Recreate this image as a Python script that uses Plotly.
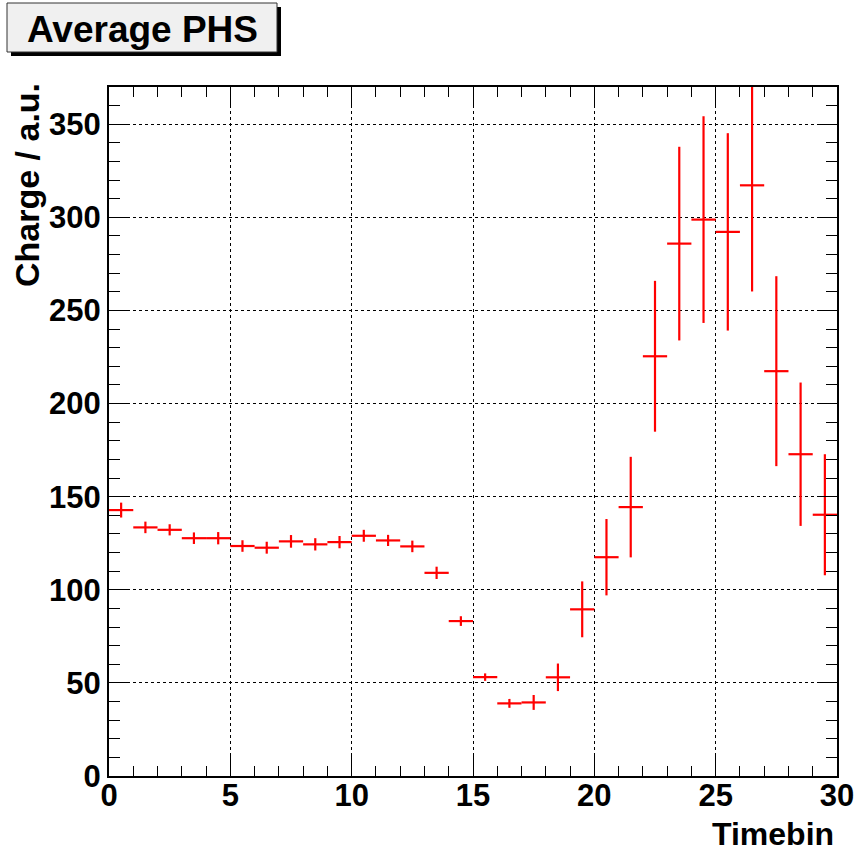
import plotly.graph_objects as go

# Data
bin_centers = [i + 0.5 for i in range(30)]
charge = [142.8, 133.5, 132.2, 127.7, 127.7, 123.5, 122.6, 126.0, 124.4, 125.6,
          129.0, 126.5, 123.3, 109.1, 83.2, 53.1, 39.0, 39.5, 53.0, 89.5,
          117.5, 144.4, 225.4, 285.9, 298.8, 292.2, 317.2, 217.4, 172.8, 140.3]
charge_err = [4.0, 3.1, 3.0, 3.1, 3.3, 3.1, 3.2, 3.4, 3.3, 3.3,
              3.2, 3.0, 3.1, 3.3, 2.6, 2.0, 2.4, 4.0, 7.4, 15.0,
              20.5, 27.0, 40.5, 52.0, 55.5, 53.0, 57.0, 51.0, 38.5, 32.5]
half_width = [0.5] * 30

L, R, T, B = 109, 19, 87, 75
W, H = 856, 851
pw, ph = W - L - R, H - T - B

fig = go.Figure()
fig.add_trace(go.Scatter(
    x=bin_centers, y=charge, mode="markers",
    marker=dict(size=0, color="red", opacity=0),
    error_x=dict(type="data", array=half_width, width=0, thickness=2.2, color="red"),
    error_y=dict(type="data", array=charge_err, width=0, thickness=2.2, color="red"),
    showlegend=False, hoverinfo="skip"))

tickfont = dict(family="Liberation Sans", size=31, color="black")
axis_common = dict(
    showline=True, linecolor="black", linewidth=2, mirror="allticks",
    ticks="inside", tickcolor="black", tickwidth=1, ticklen=20,
    showgrid=True, gridcolor="black", gridwidth=1, griddash="dot",
    zeroline=False, tickfont=tickfont, automargin=False,
    tickprefix="<b>", ticksuffix="</b>",
)

fig.update_xaxes(range=[0, 30], tick0=0, dtick=5,
                 minor=dict(dtick=1, ticks="inside", ticklen=10, tickcolor="black", showgrid=False),
                 ticklabelstandoff=-9, **axis_common)
fig.update_yaxes(range=[0, 370], tick0=0, dtick=50,
                 minor=dict(dtick=10, ticks="inside", ticklen=11, tickcolor="black", showgrid=False),
                 ticklabelstandoff=0, **axis_common)

fig.update_layout(
    width=W, height=H,
    margin=dict(l=L, r=R, t=T, b=B, pad=0, autoexpand=False),
    paper_bgcolor="white", plot_bgcolor="white",
    font=dict(family="Liberation Sans", color="black"),
    shapes=[
        dict(type="rect", xref="paper", yref="paper",
             x0=(11 - L) / pw, x1=(281 - L) / pw,
             y0=(H - B - 56) / ph, y1=(H - B - 7) / ph,
             fillcolor="black", line=dict(width=0), layer="above"),
        dict(type="rect", xref="paper", yref="paper",
             x0=(7 - L) / pw, x1=(277 - L) / pw,
             y0=(H - B - 52) / ph, y1=(H - B - 3) / ph,
             fillcolor="#f0f0f0", line=dict(color="#333333", width=1), layer="above"),
    ],
    annotations=[
        dict(text="<b>Average PHS</b>", xref="paper", yref="paper",
             x=(142 - L) / pw, y=(H - B - 29) / ph, xanchor="center", yanchor="middle",
             showarrow=False, font=dict(family="Liberation Sans", size=37, color="black")),
        dict(text="<b>Charge / a.u.</b>", xref="paper", yref="paper",
             x=(27 - L) / pw, y=(H - B - 81) / ph, xanchor="center", yanchor="top",
             textangle=-90, showarrow=False,
             font=dict(family="Liberation Sans", size=34, color="black")),
        dict(text="<b>Timebin</b>", xref="paper", yref="paper",
             x=(836 - L) / pw, y=(H - B - 834) / ph, xanchor="right", yanchor="middle",
             showarrow=False, font=dict(family="Liberation Sans", size=32, color="black")),
    ],
)

fig.write_html("out.html")
